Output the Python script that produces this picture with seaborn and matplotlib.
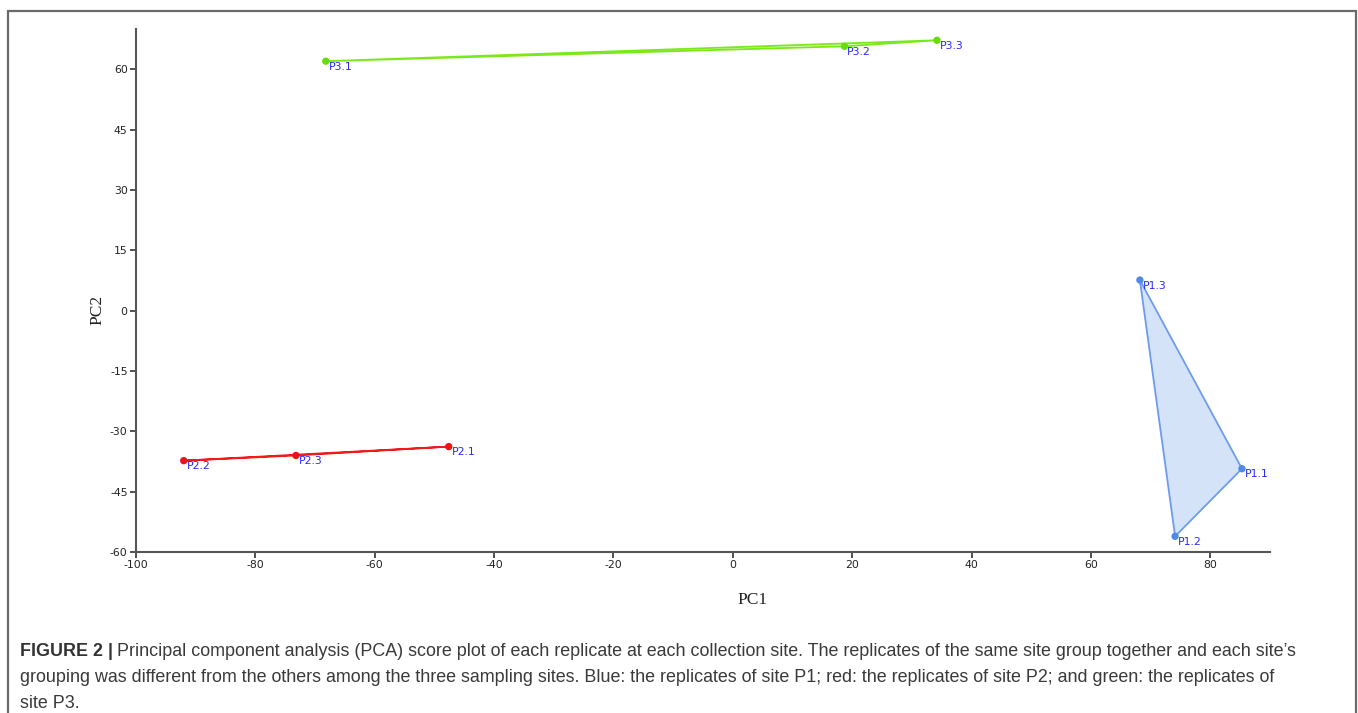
import matplotlib
matplotlib.use("Agg")
import matplotlib.pyplot as plt
import seaborn as sns
import pandas as pd
from matplotlib.patches import Rectangle

# ---- data ----
samples = ["P1.1", "P1.2", "P1.3", "P2.1", "P2.2", "P2.3", "P3.1", "P3.2", "P3.3"]
sites = ["P1", "P1", "P1", "P2", "P2", "P2", "P3", "P3", "P3"]
pc1 = [85.3, 74.1, 68.2, -47.6, -92.0, -73.2, -68.2, 18.7, 34.2]
pc2 = [-39.3, -56.1, 7.6, -33.8, -37.3, -36.0, 62.0, 65.7, 67.2]
x_ticks = [-100, -80, -60, -40, -20, 0, 20, 40, 60, 80]
y_ticks = [-60, -45, -30, -15, 0, 15, 30, 45, 60]

df = pd.DataFrame({"sample": samples, "site": sites, "PC1": pc1, "PC2": pc2})

point_colors = {"P1": "#4f8ae6", "P2": "#e8141a", "P3": "#66dd0a"}
line_colors = {"P1": "#6d9cee", "P2": "#f01a1a", "P3": "#7be81a"}
fill_colors = {"P1": "#d5e3f8", "P2": "#fde0e0", "P3": "#eafbd9"}

sns.set_theme(style="white")
plt.rcParams["font.family"] = ["DejaVu Sans"]
plt.rcParams["axes.unicode_minus"] = False

fig = plt.figure(figsize=(13.58, 7.13), dpi=100)
ax = fig.add_axes([136 / 1358, 1 - 552 / 713, (1270 - 136) / 1358, (552 - 29) / 713])

# hulls
orders = {"P1": ["P1.3", "P1.1", "P1.2"], "P2": ["P2.2", "P2.3", "P2.1"],
          "P3": ["P3.1", "P3.2", "P3.3"]}
for site in ["P1", "P2", "P3"]:
    sub = df[df["site"] == site].set_index("sample").loc[orders[site]]
    ax.fill(sub["PC1"], sub["PC2"], facecolor=fill_colors[site],
            edgecolor=line_colors[site], linewidth=1.3, zorder=2)

sns.scatterplot(data=df, x="PC1", y="PC2", hue="site", palette=point_colors,
                s=28, edgecolor="none", legend=False, ax=ax, zorder=3)

for s, x, y in zip(samples, pc1, pc2):
    ax.annotate(s, (x, y), xytext=(2, -4), textcoords="offset points",
                ha="left", va="center", fontsize=7.8, color="#2a2aff", zorder=4)

ax.set_xlim(-100, 90)
ax.set_ylim(-60, 70)
ax.set_xticks(x_ticks)
ax.set_yticks(y_ticks)
ax.tick_params(axis="both", which="major", direction="out", length=4, width=1.2,
               color="#333333", labelsize=7.8, labelcolor="#222222", pad=2,
               bottom=True, left=True)
for side in ["top", "right"]:
    ax.spines[side].set_visible(False)
for side in ["left", "bottom"]:
    ax.spines[side].set_color("#555555")
    ax.spines[side].set_linewidth(1.5)

ax.set_xlabel("PC1", family="Liberation Serif", fontsize=12.5, color="#222222")
ax.set_ylabel("PC2", family="Liberation Serif", fontsize=12.5, color="#222222")
ax.xaxis.set_label_coords((753 - 136) / 1134, -(600 - 552) / 523)
ax.yaxis.set_label_coords(-(136 - 97) / 1134, (552 - 310) / 523)
ax.xaxis.label.set_va("center")
ax.yaxis.label.set_va("center")

# frame around figure
fig.patches.append(Rectangle((8 / 1358, -0.05), (1356 - 8) / 1358, 1 - 11 / 713 + 0.05,
                             transform=fig.transFigure, fill=False,
                             edgecolor="#6a6a6a", linewidth=1.6))

cap_font = "Liberation Sans"
cap_size = 12.85
cap_color = "#3a3a3a"
line1_y = 1 - 651 / 713
t = fig.text(20 / 1358, line1_y, "FIGURE 2 |", fontsize=cap_size, family=cap_font,
             fontweight="bold", color="#333333", va="center", ha="left")
fig.canvas.draw()
bb = t.get_window_extent()
fig.text((bb.x1 + 4) / 1358, line1_y,
         "Principal component analysis (PCA) score plot of each replicate at each collection site. "
         "The replicates of the same site group together and each site\u2019s",
         fontsize=cap_size, family=cap_font, color=cap_color, va="center", ha="left")
fig.text(20 / 1358, 1 - 677 / 713,
         "grouping was different from the others among the three sampling sites. Blue: the replicates "
         "of site P1; red: the replicates of site P2; and green: the replicates of",
         fontsize=cap_size, family=cap_font, color=cap_color, va="center", ha="left")
fig.text(20 / 1358, 1 - 703 / 713, "site P3.",
         fontsize=cap_size, family=cap_font, color=cap_color, va="center", ha="left")

fig.savefig("out.png", dpi=100)
